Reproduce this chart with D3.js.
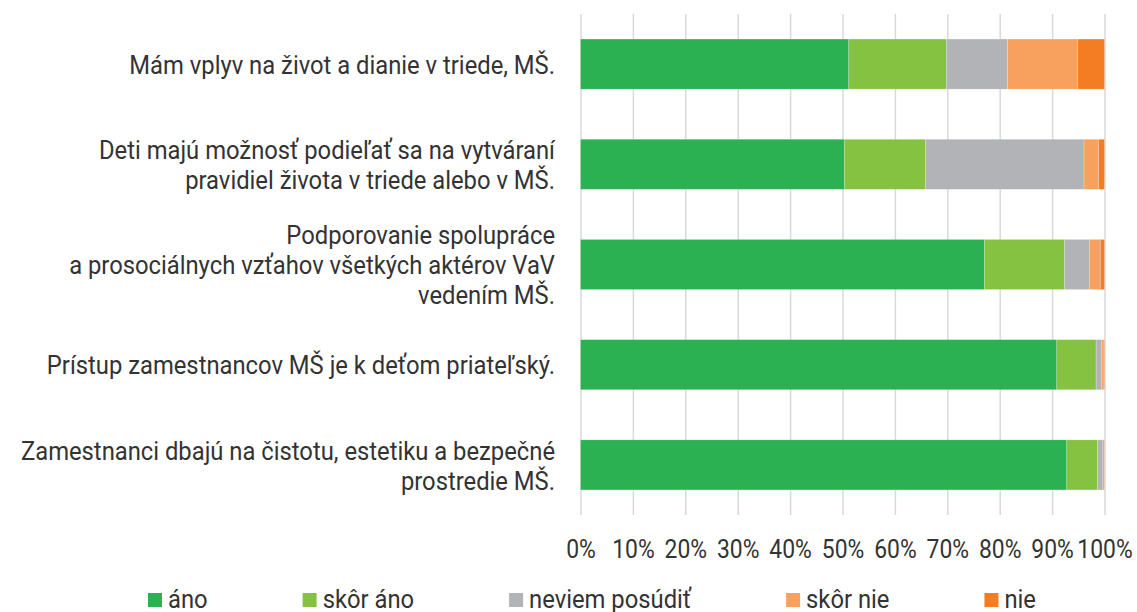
<!DOCTYPE html>
<html><head><meta charset="utf-8">
<script src="https://cdn.jsdelivr.net/npm/d3@7"></script>
<style>
html,body{margin:0;padding:0;background:#fff;}
text{font-family:Roboto,"Liberation Sans",sans-serif;fill:#333;}
</style></head>
<body><svg id="c" width="1137" height="612"></svg>
<script>
const categories = [
  "Mám vplyv na život a dianie v triede, MŠ.",
  "Deti majú možnosť podieľať sa na vytváraní\npravidiel života v triede alebo v MŠ.",
  "Podporovanie spolupráce\na prosociálnych vzťahov všetkých aktérov VaV\nvedením MŠ.",
  "Prístup zamestnancov MŠ je k deťom priateľský.",
  "Zamestnanci dbajú na čistotu, estetiku a bezpečné\nprostredie MŠ."
];
const seriesNames = ["áno", "skôr áno", "neviem posúdiť", "skôr nie", "nie"];
const ano       = [51.2, 50.4, 77.1, 90.9, 92.8];
const skorAno   = [18.6, 15.4, 15.3,  7.5,  5.9];
const neviem    = [11.7, 30.3,  4.7,  1.0,  1.0];
const skorNie   = [13.4,  2.8,  2.1,  0.5,  0.3];
const nie       = [ 5.1,  1.1,  0.8,  0.1,  0.0];
const tickValues = [0,10,20,30,40,50,60,70,80,90,100];
const colors = ["#2bb052", "#86c242", "#b2b3b6", "#f8a15e", "#f47d24"];

const seriesValues = [ano, skorAno, neviem, skorNie, nie];
const rows = categories.map((c, i) => {
  const r = {cat: c};
  seriesNames.forEach((s, j) => r[s] = seriesValues[j][i]);
  return r;
});
const stacked = d3.stack().keys(seriesNames)(rows);

const svg = d3.select("#c");
const CONDENSE = 0.915;
const FS = 26;
const x = d3.scaleLinear().domain([0, 100]).range([580.5, 1104.5]);
const y = d3.scaleBand().domain(categories).range([14, 515]).paddingInner(0.5).paddingOuter(0.25);
const color = d3.scaleOrdinal().domain(seriesNames).range(colors);

// axis + gridlines
const ax = svg.append("g").attr("transform", "translate(0,515)")
  .call(d3.axisBottom(x).tickValues(tickValues).tickFormat(d => d + "%")
    .tickSizeInner(-501).tickSizeOuter(0).tickPadding(25));
ax.select(".domain").remove();
ax.selectAll(".tick line").attr("stroke", "#d9d9d9").attr("stroke-width", 1.5);
ax.selectAll(".tick text").attr("font-size", 25).attr("fill", "#333")
  .style("font-family", "Roboto")
  .attr("transform", `scale(${CONDENSE},1)`);

// bars
svg.append("g").selectAll("g").data(stacked).join("g")
  .attr("fill", d => color(d.key))
  .selectAll("rect").data(d => d).join("rect")
  .attr("x", d => x(d[0]))
  .attr("width", d => Math.max(0, x(d[1]) - x(d[0])))
  .attr("y", d => y(d.data.cat))
  .attr("height", y.bandwidth())
  .attr("stroke", "#ffffff").attr("stroke-opacity", 0.35).attr("stroke-width", 0.6);

// category labels
const lineH = 30;
const lab = svg.append("g").selectAll("g").data(categories).join("g")
  .attr("transform", d => `translate(555,${y(d) + y.bandwidth()/2}) scale(${CONDENSE},1)`);
lab.append("text").attr("text-anchor", "end").attr("font-size", FS)
  .each(function(d){
    const lines = d.split("\n");
    const t = d3.select(this);
    const off = -(lines.length - 1) / 2 * lineH;
    lines.forEach((l, i) => {
      t.append("tspan").attr("x", 0).attr("y", off + i * lineH).attr("dy", "0.37em").text(l);
    });
  });

// legend
const leg = svg.append("g");
let lx = 148;
seriesNames.forEach((s, i) => {
  leg.append("rect").attr("x", lx).attr("y", 593).attr("width", 14).attr("height", 14).attr("fill", colors[i]);
  const g = leg.append("g").attr("transform", `translate(${lx + 20},608) scale(${CONDENSE},1)`);
  const t = g.append("text").attr("font-size", FS).text(s);
  const w = t.node().getComputedTextLength() * CONDENSE;
  lx += 20 + w + 95;
});
</script></body></html>
